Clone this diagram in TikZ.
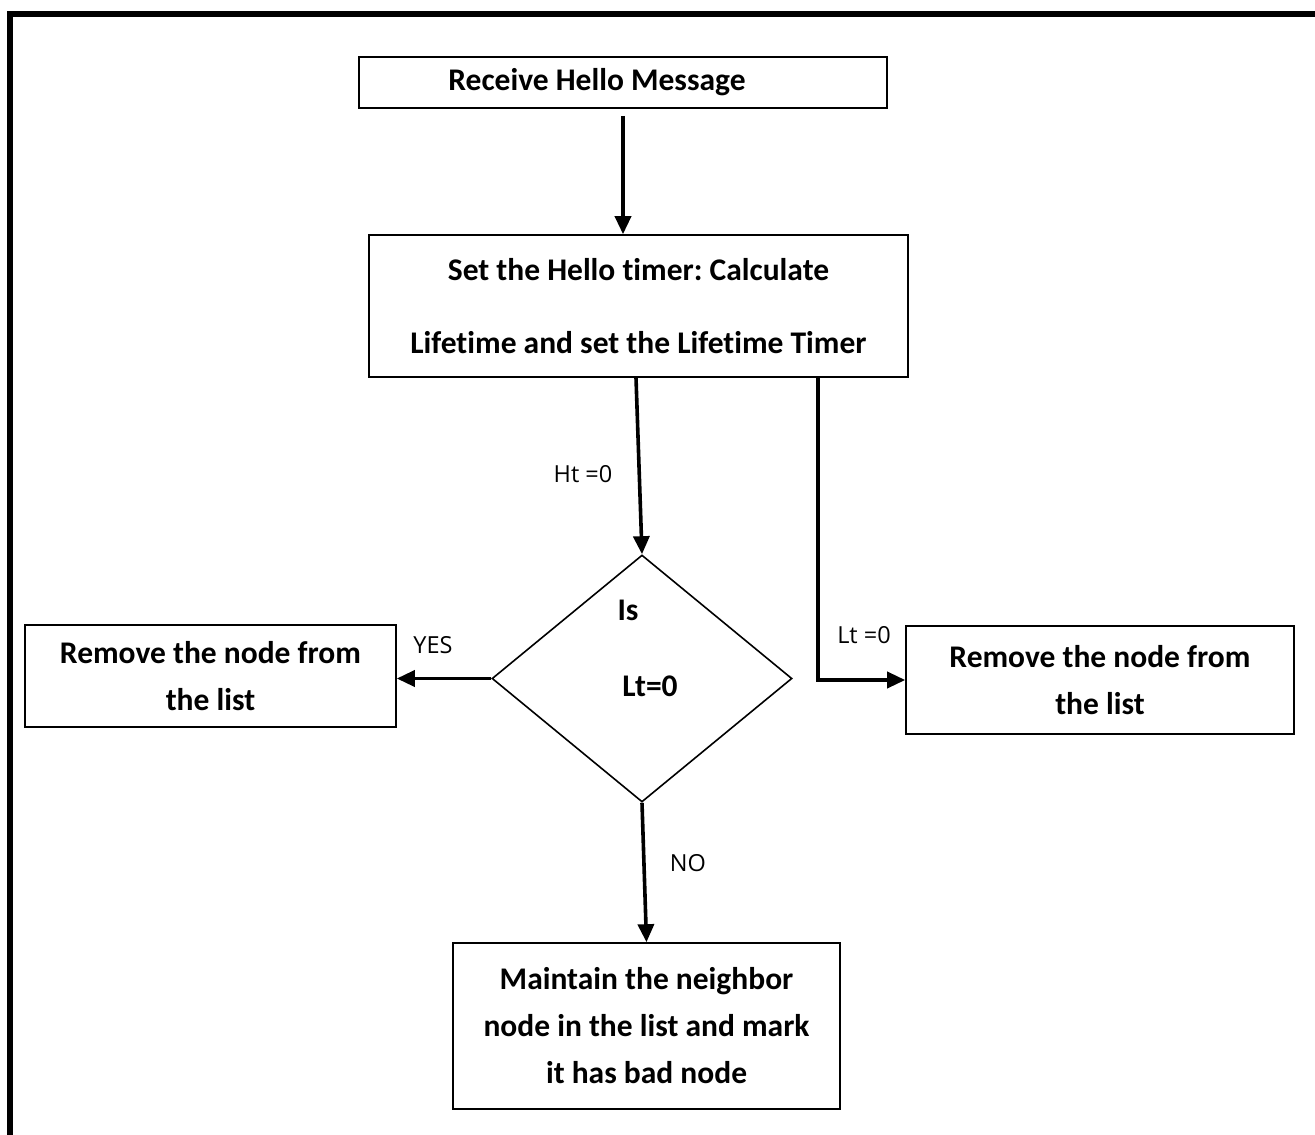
\documentclass[tikz,border=0pt]{standalone}
\usepackage{fontspec}
\setmainfont[Ligatures={NoCommon}]{Carlito}
\newfontfamily\labfont{Open Sans}
\usetikzlibrary{shapes.geometric,arrows.meta}
\frenchspacing
\begin{document}
\begin{tikzpicture}[x=1pt,y=-1pt,
  box/.style={draw,line width=1.6pt,rectangle,inner sep=0pt,align=center,
    font=\fontsize{31.5}{47}\selectfont\bfseries},
  flow/.style={line width=3.6pt,-{Triangle[length=18pt,width=16pt]}},
  lab/.style={font=\labfont\fontsize{23.5}{26}\selectfont,inner sep=0pt}]
\useasboundingbox (0,0) rectangle (1315,1135);
% frame
\draw[line width=6pt] (9.5,1135) -- (9.5,14) -- (1315,14);

\node[box,minimum width=528,minimum height=51] (b1) at (623,82.5) {\hspace*{-52pt}Receive Hello Message};
\node[box,minimum width=539,minimum height=142,font=\fontsize{31.5}{73}\selectfont\bfseries]
  (b2) at (638.5,306) {Set the Hello timer: Calculate\\Lifetime and set the Lifetime Timer};
\node[draw,line width=1.6pt,diamond,minimum width=300,minimum height=247,inner sep=0pt] (d) at (642,678.5) {};
\node[font=\fontsize{31.5}{36}\selectfont\bfseries,inner sep=0pt] (dis) at (628,610) {Is};
\node[font=\fontsize{31.5}{36}\selectfont\bfseries,inner sep=0pt] (dlt) at (650,686) {Lt=0};
\node[box,minimum width=371,minimum height=102] (lb) at (210.5,676) {Remove the node from\\the list};
\node[box,minimum width=388,minimum height=108] (rb) at (1100,680) {Remove the node from\\the list};
\node[box,minimum width=387,minimum height=166] (bb) at (646.5,1026) {Maintain the neighbor\\node in the list and mark\\it has bad node};

% connectors
\coordinate (s1) at ([yshift=-7]b1.south);
\draw[flow] (s1) -- (s1 |- b2.north);
\draw[flow] ([xshift=-2.5]b2.south) -- (d.north);
\draw[flow] ([xshift=179.5]b2.south) |- (rb.west);
\draw[flow] (d.west) -- (d.west -| lb.east);
\draw[flow] (d.south) -- (bb.north);

% labels
\node[lab] (lht) at (583,474) {Ht =0};
\node[lab] (llt) at (864,635) {Lt =0};
\node[lab] (lyes) at (433,645) {YES};
\node[lab] (lno) at (688,863) {NO};
\end{tikzpicture}
\end{document}
